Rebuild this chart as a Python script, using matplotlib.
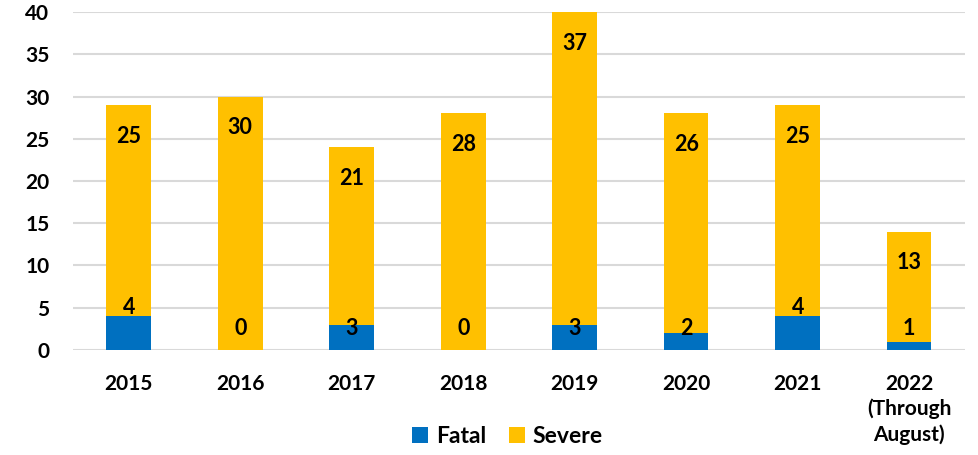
import matplotlib
matplotlib.use("Agg")
import matplotlib.pyplot as plt
import numpy as np

plt.rcParams['font.family'] = ['Lato', 'DejaVu Sans']

# Data
years = ['2015', '2016', '2017', '2018', '2019', '2020', '2021', '2022\n(Through\nAugust)']
fatal = [4, 0, 3, 0, 3, 2, 4, 1]
severe = [25, 30, 21, 28, 37, 26, 25, 13]

BLUE = '#0070C0'
GOLD = '#FFC000'

fig = plt.figure(figsize=(9.79, 4.55), dpi=100)
ax = fig.add_axes([0.0746, 0.2308, 0.911, 0.7428])

x = np.arange(len(years))
ax.bar(x, fatal, width=0.4, color=BLUE, label='Fatal', zorder=3)
ax.bar(x, severe, width=0.4, bottom=fatal, color=GOLD, label='Severe', zorder=3)

# value labels
for i in range(len(years)):
    top = fatal[i] + severe[i]
    ax.text(x[i], top - 3.7, str(severe[i]), ha='center', va='center',
            fontsize=15.5, fontweight='bold', color='black', zorder=4)
    fy = fatal[i] + 1.0 if fatal[i] >= 4 else 2.6
    ax.text(x[i], fy, str(fatal[i]), ha='center', va='center',
            fontsize=15.5, fontweight='bold', color='black', zorder=4)

ax.set_xlim(-0.5, len(years) - 0.5)
ax.set_ylim(0, 40)
ax.set_yticks(range(0, 41, 5))
ax.yaxis.grid(True, color='#D9D9D9', linewidth=1.5, zorder=0)
ax.set_axisbelow(True)
for s in ax.spines.values():
    s.set_visible(False)
ax.tick_params(length=0)
ax.tick_params(axis='y', pad=17)
ax.tick_params(axis='x', pad=17)
ax.set_xticks(x)
ax.set_xticklabels(years, va='top', linespacing=1.3)
for lab in ax.get_xticklabels() + ax.get_yticklabels():
    lab.set_fontsize(15)
    lab.set_fontweight('bold')

ax.legend(loc='center', bbox_to_anchor=(0.487, -0.255), ncol=2, frameon=False,
          prop={'size': 16.5, 'weight': 'bold'}, handlelength=0.7, handleheight=0.7,
          handletextpad=0.35, columnspacing=1.0)

fig.savefig('out.png', dpi=100)
